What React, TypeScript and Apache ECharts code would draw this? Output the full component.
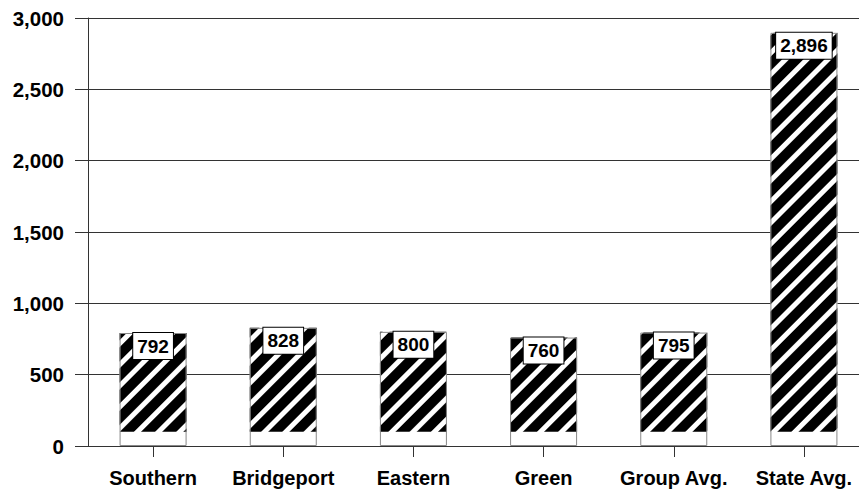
import React, { useEffect, useRef } from "react";
import * as echarts from "echarts";

const categories = ["Southern", "Bridgeport", "Eastern", "Green", "Group Avg.", "State Avg."];
const values = [792, 828, 800, 760, 795, 2896];
const yTicks = [0, 500, 1000, 1500, 2000, 2500, 3000];
// the striped fill starts a little above the baseline
const HATCH_BASE = 100;

const FONT = "'Liberation Sans', Arial, Helvetica, sans-serif";
const LINE = "#333";

export default function App() {
  const ref = useRef<HTMLDivElement>(null);

  useEffect(() => {
    document.body.style.margin = "0";
    const chart = echarts.init(ref.current!, null, { renderer: "svg" });

    const offsetData = values.map(() => HATCH_BASE);
    const hatchData = values.map((v) => v - HATCH_BASE);

    chart.setOption({
      animation: false,
      backgroundColor: "#fff",
      grid: { left: 88, right: 0, top: 18, bottom: 46 },
      xAxis: {
        type: "category",
        data: categories,
        axisLine: { show: true, lineStyle: { color: LINE, width: 1 } },
        axisTick: { show: true, alignWithLabel: true, length: 11, lineStyle: { color: LINE } },
        axisLabel: {
          interval: 0,
          margin: 22,
          color: "#000",
          fontFamily: FONT,
          fontWeight: "bold",
          fontSize: 20,
        },
      },
      yAxis: {
        type: "value",
        min: yTicks[0],
        max: yTicks[yTicks.length - 1],
        interval: 500,
        axisLine: { show: true, lineStyle: { color: LINE, width: 1 } },
        axisTick: { show: true, length: 13, lineStyle: { color: LINE } },
        splitLine: { show: true, lineStyle: { color: LINE, width: 1 } },
        axisLabel: {
          margin: 24,
          color: "#000",
          fontFamily: FONT,
          fontWeight: "bold",
          fontSize: 20.5,
          formatter: (v: number) => v.toLocaleString("en-US"),
        },
      },
      series: [
        {
          name: "offset",
          type: "bar",
          stack: "fill",
          barWidth: 67,
          data: offsetData,
          itemStyle: { color: "rgba(0,0,0,0)" },
          silent: true,
        },
        {
          name: "hatch",
          type: "bar",
          stack: "fill",
          barWidth: 67,
          data: hatchData,
          itemStyle: {
            color: "#fff",
            decal: {
              symbol: "rect",
              symbolSize: 1,
              color: "#000",
              dashArrayX: [1, 0],
              dashArrayY: [10, 4.5],
              rotation: -Math.PI / 4,
            },
          },
        },
        {
          name: "value",
          type: "bar",
          barWidth: 67,
          barGap: "-100%",
          z: 5,
          data: values,
          itemStyle: { color: "rgba(0,0,0,0)", borderColor: "#888", borderWidth: 1 },
          label: {
            show: true,
            position: "insideTop",
            distance: 0,
            formatter: (p: any) => Number(p.value).toLocaleString("en-US"),
            color: "#000",
            fontFamily: FONT,
            fontWeight: "bold",
            fontSize: 19,
            lineHeight: 20,
            backgroundColor: "#fff",
            borderColor: "#000",
            borderWidth: 1,
            padding: [3, 4],
          },
        },
      ],
    });

    return () => chart.dispose();
  }, []);

  return (
    <div style={{ width: 859, height: 492, overflow: "hidden" }}>
      <div ref={ref} style={{ width: 869, height: 492 }} />
    </div>
  );
}
